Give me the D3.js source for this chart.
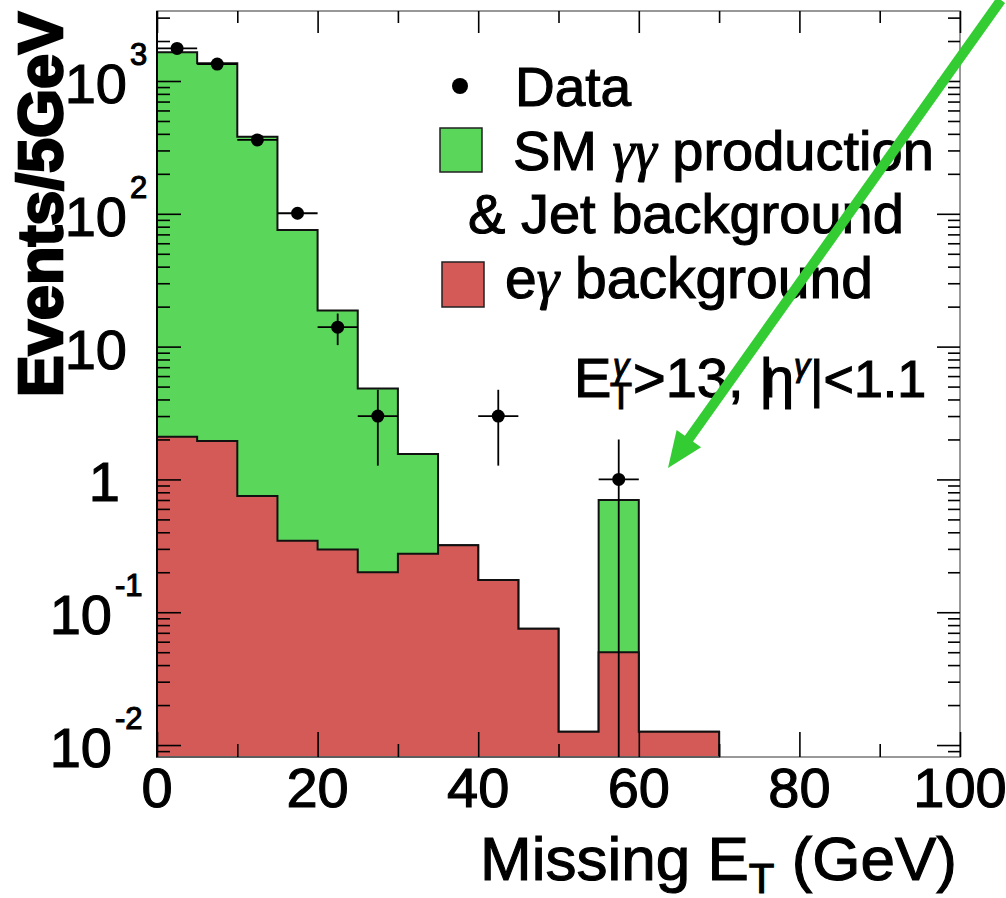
<!DOCTYPE html>
<html>
<head>
<meta charset="utf-8">
<script src="https://cdn.jsdelivr.net/npm/d3@7"></script>
<style>
    body { margin: 0; background: #fff; }
    #chart-area { width: 1006px; height: 898px; }
    text { font-family: "Liberation Sans", Arial, sans-serif; fill: #000; stroke: #000; stroke-width: 1.1px; }
</style>
</head>
<body>
<div id="chart-area"></div>
<script>

// histogram bins (low edge, GeV), all 5 GeV wide
let binLow = [0, 5, 10, 15, 20, 25, 30, 35, 40, 45, 50, 55, 60, 65];
let binWidth = 5;

// e-gamma background (bottom of the stack)
let egBackground = [2.1, 1.95, 0.75, 0.345, 0.297, 0.2, 0.276, 0.319, 0.175, 0.075, 0.0126, 0.05, 0.0126, 0.0126];
// SM gamma-gamma + jet background (stacked on top)
let smJetBackground = [1643, 1358, 380, 75.2, 18.4, 4.63, 1.28, 0, 0, 0, 0, 0.65, 0, 0];

// data points
let dataCenter = [2.5, 7.5, 12.5, 17.5, 22.5, 27.5, 42.5, 57.5];
let dataCounts = [1760, 1340, 360, 101, 14, 3, 3, 1];
let dataErrors = [42, 36.6, 19, 10, 3.74, 1.73, 1.73, 1];

// axes
let xMajorTicks = [0, 20, 40, 60, 80, 100];
let xMinorTicks = [10, 30, 50, 70, 90];
let yLabelExponents = [-2, -1, 0, 1, 2, 3];


class MetChart {

    constructor(parentElement) {
        this.parentElement = parentElement;
    }

    initVis() {
        let vis = this;

        vis.margin = {top: 11, right: 46, bottom: 141, left: 157};
        vis.width = 1006 - vis.margin.left - vis.margin.right;
        vis.height = 898 - vis.margin.top - vis.margin.bottom;

        vis.svgRoot = d3.select("#" + vis.parentElement).append("svg")
            .attr("width", 1006)
            .attr("height", 898);

        vis.svg = vis.svgRoot.append("g")
            .attr("transform", "translate(" + vis.margin.left + "," + vis.margin.top + ")");

        // Scales
        vis.x = d3.scaleLinear()
            .domain([0, 100])
            .range([0, vis.width]);

        vis.yMin = Math.pow(10, -2.09);
        vis.y = d3.scaleLog()
            .domain([vis.yMin, Math.pow(10, 3.527)])
            .range([vis.height, 0]);

        vis.wrangleData();
    }

    wrangleData() {
        let vis = this;

        vis.bins = binLow.map(function(lo, i) {
            return {
                lo: lo,
                eg: egBackground[i],
                total: egBackground[i] + smJetBackground[i]
            };
        });
        // closing point for the step curve
        let last = vis.bins[vis.bins.length - 1];
        vis.bins.push({lo: last.lo + binWidth, eg: last.eg, total: last.total});

        vis.points = dataCenter.map(function(c, i) {
            return {x: c, v: dataCounts[i], e: dataErrors[i]};
        });

        vis.updateVis();
    }

    updateVis() {
        let vis = this;

        // minor log ticks
        vis.yMinor = [];
        for (let d = -3; d <= 3; d++) {
            for (let k = 2; k <= 9; k++) {
                let v = k * Math.pow(10, d);
                if (v > vis.yMin && v < vis.y.domain()[1]) vis.yMinor.push(v);
            }
        }
        vis.yMajor = yLabelExponents.map(function(e) { return Math.pow(10, e); });

        // Stacked histograms
        vis.area = function(key) {
            return d3.area()
                .curve(d3.curveStepAfter)
                .x(function(d) { return vis.x(d.lo); })
                .y0(vis.height)
                .y1(function(d) { return vis.y(Math.max(d[key], vis.yMin)); });
        };

        vis.svg.append("path")
            .datum(vis.bins)
            .attr("d", vis.area("total"))
            .attr("fill", "#5ad65a")
            .attr("stroke", "#111")
            .attr("stroke-width", 2);

        vis.svg.append("path")
            .datum(vis.bins)
            .attr("d", vis.area("eg"))
            .attr("fill", "#d45a57")
            .attr("stroke", "#111")
            .attr("stroke-width", 2);

        // Frame
        vis.svg.append("rect")
            .attr("width", vis.width)
            .attr("height", vis.height)
            .attr("fill", "none")
            .attr("stroke", "#777")
            .attr("stroke-width", 1.5);

        // Ticks (ROOT style, inside, on all four sides)
        let tickAxis = function(gen, vals, size, tr) {
            let g = vis.svg.append("g")
                .attr("class", "axis")
                .attr("transform", tr || null)
                .call(gen.tickValues(vals).tickSize(-size).tickFormat(""));
            g.select(".domain").remove();
            g.selectAll("line").attr("stroke", "#000").attr("stroke-width", 1.6);
        };
        tickAxis(d3.axisLeft(vis.y), vis.yMajor, 24);
        tickAxis(d3.axisLeft(vis.y), vis.yMinor, 13);
        tickAxis(d3.axisRight(vis.y), vis.yMajor, 23, "translate(" + vis.width + ",0)");
        tickAxis(d3.axisRight(vis.y), vis.yMinor, 12, "translate(" + vis.width + ",0)");
        tickAxis(d3.axisBottom(vis.x), xMajorTicks, 25, "translate(0," + vis.height + ")");
        tickAxis(d3.axisBottom(vis.x), xMinorTicks, 13, "translate(0," + vis.height + ")");
        tickAxis(d3.axisTop(vis.x), xMajorTicks, 22);
        tickAxis(d3.axisTop(vis.x), xMinorTicks, 12);

        vis.svg.append("line")
            .attr("y1", 0).attr("y2", vis.height)
            .attr("stroke", "#000").attr("stroke-width", 2);

        // Data points with error bars
        let pts = vis.svg.selectAll(".pt")
            .data(vis.points)
            .enter().append("g")
            .attr("class", "pt");

        pts.append("line")
            .attr("x1", function(d) { return vis.x(d.x - binWidth / 2); })
            .attr("x2", function(d) { return vis.x(d.x + binWidth / 2); })
            .attr("y1", function(d) { return vis.y(d.v); })
            .attr("y2", function(d) { return vis.y(d.v); })
            .attr("stroke", "#000").attr("stroke-width", 1.8);

        pts.append("line")
            .attr("x1", function(d) { return vis.x(d.x); })
            .attr("x2", function(d) { return vis.x(d.x); })
            .attr("y1", function(d) { return vis.y(d.v + d.e); })
            .attr("y2", function(d) { return vis.y(Math.max(d.v - d.e, vis.yMin)); })
            .attr("stroke", "#000").attr("stroke-width", 1.8);

        pts.append("circle")
            .attr("cx", function(d) { return vis.x(d.x); })
            .attr("cy", function(d) { return vis.y(d.v); })
            .attr("r", 6.5)
            .attr("fill", "#000");

        // Tick labels
        xMajorTicks.forEach(function(t) {
            vis.svgRoot.append("text")
                .attr("x", vis.margin.left + vis.x(t))
                .attr("y", 807)
                .attr("text-anchor", "middle")
                .attr("font-size", 56)
                .text(t);
        });

        yLabelExponents.forEach(function(e) {
            let ty = vis.margin.top + vis.y(Math.pow(10, e));
            let base = e === 0 ? "1" : "10";
            let endX = e < 0 ? 112 : (e === 0 ? 120 : 127);
            vis.svgRoot.append("text")
                .attr("x", endX)
                .attr("y", ty + 22)
                .attr("text-anchor", "end")
                .attr("font-size", 56)
                .text(base);
            if (e !== 0 && e !== 1) {
                vis.svgRoot.append("text")
                    .attr("x", endX + 3)
                    .attr("y", ty - 16)
                    .attr("font-size", 31)
                    .text(e < 0 ? "-" + (-e) : e);
            }
        });

        // Axis titles
        vis.svgRoot.append("text")
            .attr("transform", "translate(62,12) rotate(-90)")
            .attr("text-anchor", "end")
            .attr("font-size", 63)
            .attr("font-weight", "bold")
            .style("stroke-width", "2.6px")
            .text("Events/5GeV");

        let xt = vis.svgRoot.append("text")
            .attr("x", 957)
            .attr("y", 880)
            .attr("text-anchor", "end")
            .attr("font-size", 62);
        xt.append("tspan").text("Missing E");
        xt.append("tspan").attr("font-size", 42).attr("dy", 13).text("T");
        xt.append("tspan").attr("dy", -13).text(" (GeV)");

        // Legend
        let leg = vis.svgRoot.append("g").attr("class", "legend");
        leg.append("circle").attr("cx", 460).attr("cy", 86).attr("r", 8).attr("fill", "#000");
        leg.append("text").attr("x", 515).attr("y", 106).attr("font-size", 55).text("Data");

        leg.append("rect").attr("x", 440).attr("y", 128).attr("width", 42).attr("height", 44)
            .attr("fill", "#5ad65a").attr("stroke", "#222").attr("stroke-width", 1.5);
        let t1 = leg.append("text").attr("x", 513).attr("y", 170).attr("font-size", 56);
        t1.append("tspan").text("SM ");
        t1.append("tspan").attr("font-family", "Liberation Serif").attr("font-style", "italic").text("γγ");
        t1.append("tspan").text(" production");
        leg.append("text").attr("x", 468).attr("y", 233).attr("font-size", 56).text("& Jet background");

        leg.append("rect").attr("x", 442).attr("y", 262).attr("width", 42).attr("height", 45)
            .attr("fill", "#d45a57").attr("stroke", "#222").attr("stroke-width", 1.5);
        let t2 = leg.append("text").attr("x", 505).attr("y", 298).attr("font-size", 57);
        t2.append("tspan").text("e");
        t2.append("tspan").attr("font-family", "Liberation Serif").attr("font-style", "italic").text("γ");
        t2.append("tspan").text(" background");

        // Selection label
        let cut = vis.svgRoot.append("g").attr("class", "cut");
        cut.append("text").attr("x", 574).attr("y", 397).attr("font-size", 56).text("E");
        cut.append("text").attr("x", 613).attr("y", 376).attr("font-size", 32)
            .attr("font-family", "Liberation Serif").attr("font-style", "italic").text("γ");
        cut.append("text").attr("x", 610).attr("y", 409).attr("font-size", 36).text("T");
        cut.append("text").attr("x", 633).attr("y", 397).attr("font-size", 56).text(">13, |");
        cut.append("text").attr("x", 763).attr("y", 397).attr("font-size", 56)
            .attr("font-family", "Liberation Serif").text("η");
        cut.append("text").attr("x", 794).attr("y", 376).attr("font-size", 32)
            .attr("font-family", "Liberation Serif").attr("font-style", "italic").text("γ");
        cut.append("text").attr("x", 810).attr("y", 397).attr("font-size", 52).text("|<1.1");

        // Green arrow pointing at the 55-60 GeV bin
        let tip = [668, 468];
        let start = [1001, 0];
        let dx = start[0] - tip[0], dy = start[1] - tip[1];
        let len = Math.sqrt(dx * dx + dy * dy);
        let ux = dx / len, uy = dy / len;
        let headLen = 36, headHalf = 15;
        let bx = tip[0] + ux * headLen, by = tip[1] + uy * headLen;
        vis.svgRoot.append("line")
            .attr("x1", start[0]).attr("y1", start[1])
            .attr("x2", bx - ux * 2).attr("y2", by - uy * 2)
            .attr("stroke", "#33cc33").attr("stroke-width", 10);
        vis.svgRoot.append("path")
            .attr("d", "M" + tip[0] + "," + tip[1] +
                "L" + (bx - uy * headHalf) + "," + (by + ux * headHalf) +
                "L" + (bx + uy * headHalf) + "," + (by - ux * headHalf) + "Z")
            .attr("fill", "#33cc33");
    }
}

let chart = new MetChart("chart-area");
chart.initVis();

</script>
</body>
</html>
